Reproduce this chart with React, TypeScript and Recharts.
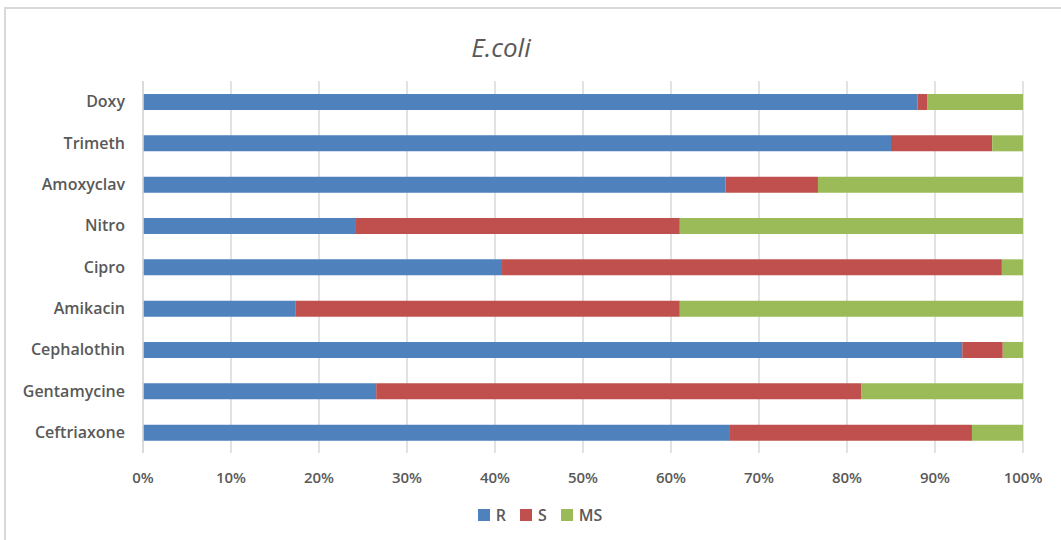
import { BarChart, Bar, XAxis, YAxis, CartesianGrid, Legend } from "recharts";

const DRUGS = [
  "Doxy",
  "Trimeth",
  "Amoxyclav",
  "Nitro",
  "Cipro",
  "Amikacin",
  "Cephalothin",
  "Gentamycine",
  "Ceftriaxone",
];

// share of isolates per drug (percent)
const RESISTANT = [88, 85, 66.2, 24.2, 40.8, 17.3, 93.1, 26.5, 66.7];
const SENSITIVE = [1.1, 11.5, 10.5, 36.8, 56.8, 43.7, 4.6, 55.1, 27.5];
const MOD_SENSITIVE = [10.9, 3.5, 23.3, 39, 2.4, 39, 2.3, 18.4, 5.8];

const SERIES = ["R", "S", "MS"];
const X_TICKS = [0, 0.1, 0.2, 0.3, 0.4, 0.5, 0.6, 0.7, 0.8, 0.9, 1];

const COLORS: Record<string, string> = {
  R: "#4F81BD",
  S: "#C0504D",
  MS: "#9BBB59",
};

const TEXT = "#595959";
const GRID = "#d9d9d9";
const FONT = "'Open Sans', sans-serif";

const data = DRUGS.map((name, i) => ({
  name,
  R: RESISTANT[i],
  S: SENSITIVE[i],
  MS: MOD_SENSITIVE[i],
}));

function LegendRow({ payload }: any) {
  const items = [...(payload || [])].sort(
    (a: any, b: any) => SERIES.indexOf(a.value) - SERIES.indexOf(b.value)
  );
  return (
    <div style={{ display: "flex", justifyContent: "center", gap: 14 }}>
      {items.map((p: any) => (
        <div key={p.value} style={{ display: "flex", alignItems: "center", gap: 6 }}>
          <span style={{ width: 12, height: 12, background: p.color, display: "inline-block" }} />
          <span style={{ fontFamily: FONT, fontWeight: 600, fontSize: 16, color: TEXT }}>{p.value}</span>
        </div>
      ))}
    </div>
  );
}

export default function App() {
  return (
    <div style={{ position: "fixed", left: 0, top: 0, width: 1061, height: 540, background: "#fff", overflow: "hidden" }}>
      <div
        style={{
          position: "absolute",
          left: 4,
          top: 7,
          width: 1100,
          height: 600,
          border: `2px solid ${GRID}`,
          boxSizing: "border-box",
        }}
      />
      <div
        style={{
          position: "absolute",
          left: 0,
          top: 29,
          width: 1002,
          textAlign: "center",
          fontFamily: FONT,
          fontStyle: "italic",
          fontSize: 26,
          color: TEXT,
        }}
      >
        E.coli
      </div>
      <BarChart
        width={1061}
        height={540}
        data={data}
        layout="vertical"
        stackOffset="expand"
        barSize={16}
        margin={{ top: 81, right: 38, left: 0, bottom: 57 }}
        style={{ position: "absolute", left: 0, top: 0 }}
      >
        <CartesianGrid horizontal={false} stroke={GRID} strokeWidth={1.5} />
        <XAxis
          type="number"
          domain={[0, 1]}
          ticks={X_TICKS}
          tickFormatter={(v) => `${Math.round(v * 100)}%`}
          axisLine={false}
          tickLine={false}
          tickMargin={13}
          height={30}
          interval={0}
          tick={{ fill: TEXT, fontFamily: FONT, fontWeight: 600, fontSize: 15 }}
        />
        <YAxis
          type="category"
          dataKey="name"
          width={143}
          axisLine={{ stroke: GRID, strokeWidth: 1.5 }}
          tickLine={false}
          tickSize={0}
          tickMargin={18}
          interval={0}
          tick={{ fill: TEXT, fontFamily: FONT, fontWeight: 600, fontSize: 16 }}
        />
        <Legend
          layout="horizontal"
          verticalAlign="middle"
          align="center"
          wrapperStyle={{ top: 504, left: 0, width: 1080 }}
          content={<LegendRow />}
        />
        {SERIES.map((key) => (
          <Bar key={key} dataKey={key} stackId="a" fill={COLORS[key]} isAnimationActive={false} />
        ))}
      </BarChart>
    </div>
  );
}
